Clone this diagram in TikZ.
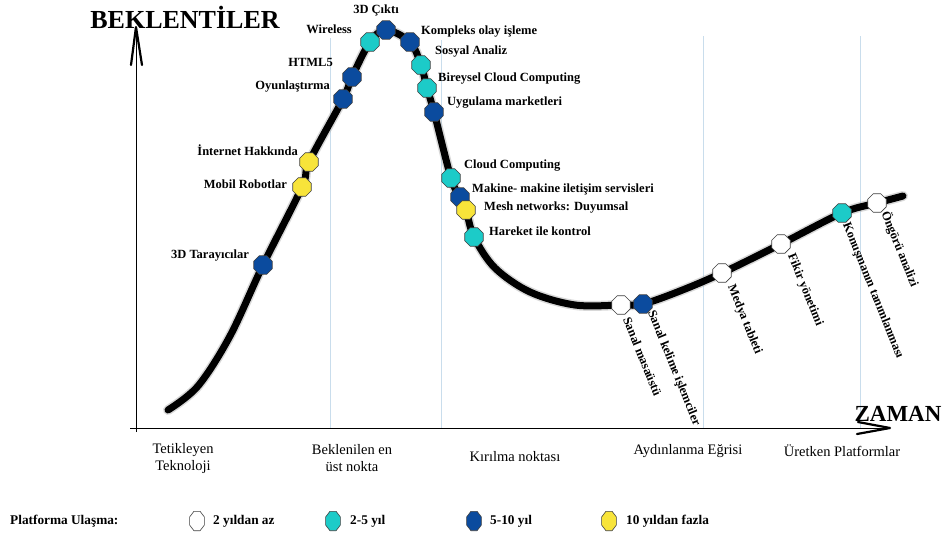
\documentclass[tikz,border=0pt]{standalone}
\usepackage{fontspec}
\setmainfont{Liberation Serif}
\usetikzlibrary{shapes.geometric}
\definecolor{octcyan}{HTML}{1CCBC8}
\definecolor{octblue}{HTML}{0B4B9E}
\definecolor{octyellow}{HTML}{F8E43A}
\definecolor{guidecol}{HTML}{C9DDEC}
\begin{document}
\begin{tikzpicture}[x=1pt,y=-1pt,
  oct/.style={regular polygon, regular polygon sides=8, minimum size=20pt, inner sep=0pt, draw=black!75, line width=0.6pt},
  octw/.style={oct, fill=white},
  octc/.style={oct, fill=octcyan},
  octb/.style={oct, fill=octblue},
  octy/.style={oct, fill=octyellow},
  lab/.style={font=\bfseries\fontsize{12.5}{14}\selectfont, inner sep=0pt},
  leglab/.style={font=\bfseries\fontsize{13.3}{15}\selectfont, inner sep=0pt, anchor=west},
  legoct/.style={transform shape, xscale=0.8, yscale=1.05},
  rlab/.style={lab, rotate=-68, anchor=north west},
  phase/.style={font=\fontsize{14.5}{17}\selectfont, align=center, inner sep=0pt},
  guide/.style={draw=guidecol, line width=0.8pt},
  axis/.style={line width=0.8pt},
  axhead/.style={line width=2.2pt, line cap=round, line join=round},
  title/.style={font=\bfseries\fontsize{26}{28}\selectfont, inner sep=0pt}
]
\useasboundingbox (0,0) rectangle (947,536);

% guides
\draw[guide] (330,38) -- (330,428);
\draw[guide] (441,40) -- (441,428);
\draw[guide] (703,36) -- (703,428);
\draw[guide] (860,36) -- (860,428);

% axes
\coordinate (ytop) at (136,27);
\coordinate (ybot) at (136,432);
\coordinate (xl) at (130,428);
\coordinate (xr) at (890,428);
\draw[axis] (ybot) -- (ytop);
\draw[axhead] (131,65) -- (ytop) -- (142,65);
\draw[axis] (xl) -- (xr);
\draw[axhead] (858,422) -- (xr) -- (857,434);

\node[title] (ylab) at (185,17) {BEKLENTİLER};
\node[title, font=\bfseries\fontsize{23}{25}\selectfont] (xlab) at (898,414) {ZAMAN};

% curve points
\coordinate (s0) at (168,410);
\coordinate (s1) at (198,386);
\coordinate (s2) at (230,336);
\coordinate (p1) at (263,265);
\coordinate (p2) at (302,187);
\coordinate (p3) at (309,162);
\coordinate (p4) at (343,99);
\coordinate (p5) at (352,77);
\coordinate (p6) at (370,42);
\coordinate (p7) at (386,30);
\coordinate (p8) at (410,42);
\coordinate (p9) at (421,65);
\coordinate (p10) at (427,88);
\coordinate (p11) at (434,112);
\coordinate (p12) at (451,178);
\coordinate (p13) at (460,197);
\coordinate (p14) at (466,210);
\coordinate (p15) at (474,237);
\coordinate (s3) at (495,268);
\coordinate (s4) at (530,292);
\coordinate (s5) at (575,305);
\coordinate (p16) at (621,305);
\coordinate (p17) at (643,304);
\coordinate (s6) at (680,291);
\coordinate (p18) at (722,273);
\coordinate (p19) at (781,244);
\coordinate (p20) at (842,213);
\coordinate (p21) at (877,203);
\coordinate (s7) at (903,196);

\draw[black!30, opacity=0.5, line width=10pt, line cap=round, shift={(2,3)}]
  plot[smooth, tension=0.55] coordinates {(s0) (s1) (s2) (p1) (p2) (p3) (p4) (p5) (p6) (p7) (p8) (p9) (p10) (p11) (p12) (p13) (p14) (p15) (s3) (s4) (s5) (p16) (p17) (s6) (p18) (p19) (p20) (p21) (s7)};
\draw[black, line width=7pt, line cap=round]
  plot[smooth, tension=0.55] coordinates {(s0) (s1) (s2) (p1) (p2) (p3) (p4) (p5) (p6) (p7) (p8) (p9) (p10) (p11) (p12) (p13) (p14) (p15) (s3) (s4) (s5) (p16) (p17) (s6) (p18) (p19) (p20) (p21) (s7)};

% octagons
\node[octb] (n1) at (p1) {};
\node[octy] (n2) at (p2) {};
\node[octy] (n3) at (p3) {};
\node[octb] (n4) at (p4) {};
\node[octb] (n5) at (p5) {};
\node[octc] (n6) at (p6) {};
\node[octb] (n7) at (p7) {};
\node[octb] (n8) at (p8) {};
\node[octc] (n9) at (p9) {};
\node[octc] (n10) at (p10) {};
\node[octb] (n11) at (p11) {};
\node[octc] (n12) at (p12) {};
\node[octb] (n13) at (p13) {};
\node[octy] (n14) at (p14) {};
\node[octc] (n15) at (p15) {};
\node[octw] (n16) at (p16) {};
\node[octb] (n17) at (p17) {};
\node[octw] (n18) at (p18) {};
\node[octw] (n19) at (p19) {};
\node[octc] (n20) at (p20) {};
\node[octw] (n21) at (p21) {};

% labels left
\node[lab, anchor=east] (l1) at (249,256) {3D Tarayıcılar};
\node[lab, anchor=east] (l2) at (287,184) {Mobil Robotlar};
\node[lab, anchor=east] (l3) at (298,150) {İnternet Hakkında};
\node[lab, anchor=east] (l4) at (330,87) {Oyunlaştırma};
\node[lab, anchor=east] (l5) at (333,62) {HTML5};
\node[lab, anchor=east] (l6) at (352,29) {Wireless};
\node[lab] (l7) at (376,10) {3D Çıktı};
% labels right
\node[lab, anchor=west] (l8) at (421,32) {Kompleks olay işleme};
\node[lab, anchor=west] (l9) at (435,52) {Sosyal Analiz};
\node[lab, anchor=west] (l10) at (438,79) {Bireysel Cloud Computing};
\node[lab, anchor=west] (l11) at (447,103) {Uygulama marketleri};
\node[lab, anchor=west] (l12) at (464,166) {Cloud Computing};
\node[lab, anchor=west] (l13) at (472,189) {Makine- makine iletişim servisleri};
\node[lab, anchor=west] (l14) at (484,208) {Mesh networks: Duyumsal};
\node[lab, anchor=west] (l15) at (489,231) {Hareket ile kontrol};
% rotated labels
\node[rlab] (l16) at (631,316) {Sanal masaüstü};
\node[rlab] (l17) at (656,309) {Sanal kelime işlemciler};
\node[rlab] (l18) at (736,283) {Medya tableti};
\node[rlab] (l19) at (796,252) {Fikir yönetimi};
\node[rlab] (l20) at (851,221) {Konuşmanın tanımlanması};
\node[rlab] (l21) at (891,209) {Öngörü analizi};

% phases
\node[phase] (ph1) at (183,459) {Tetikleyen\\Teknoloji};
\node[phase] (ph2) at (352,458) {Beklenilen en\\üst nokta};
\node[phase] (ph3) at (515,457) {Kırılma noktası};
\node[phase] (ph4) at (688,451) {Aydınlanma Eğrisi};
\node[phase] (ph5) at (842,451) {Üretken Platformlar};

% legend
\node[leglab] (lg0) at (10,521) {Platforma Ulaşma:};
\begin{scope}[shift={(197,521)}]
  \node[octw, legoct] (lgw) at (0,0) {};
\end{scope}
\node[leglab] (lgwt) at (213,521) {2 yıldan az};
\begin{scope}[shift={(333,521)}]
  \node[octc, legoct] (lgc) at (0,0) {};
\end{scope}
\node[leglab] (lgct) at (350,521) {2-5 yıl};
\begin{scope}[shift={(474,521)}]
  \node[octb, legoct] (lgb) at (0,0) {};
\end{scope}
\node[leglab] (lgbt) at (490,521) {5-10 yıl};
\begin{scope}[shift={(609,521)}]
  \node[octy, legoct] (lgy) at (0,0) {};
\end{scope}
\node[leglab] (lgyt) at (626,521) {10 yıldan fazla};
\end{tikzpicture}
\end{document}
